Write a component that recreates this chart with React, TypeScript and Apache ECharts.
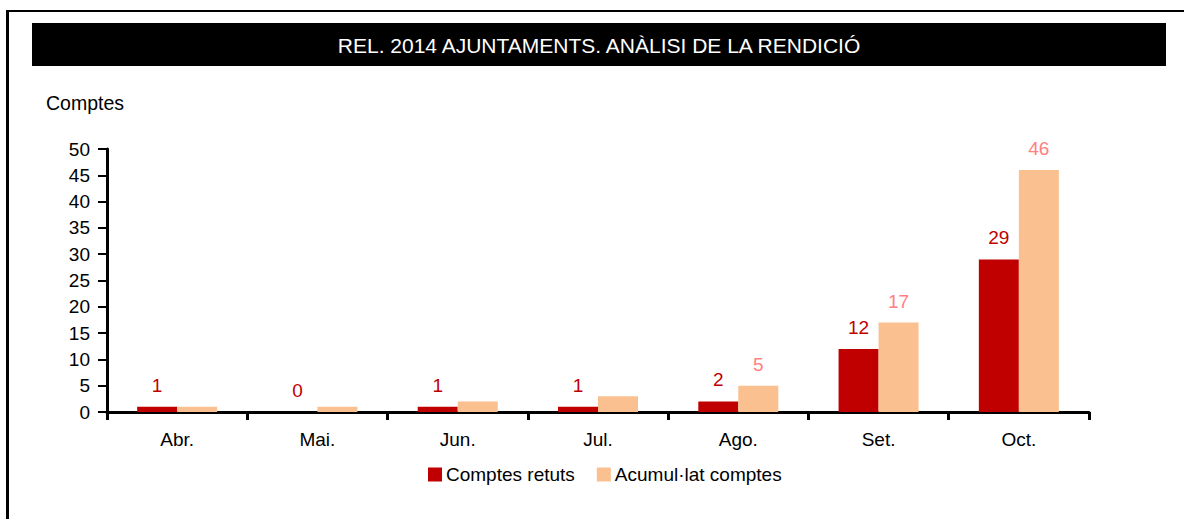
import React, { useEffect, useRef } from "react";
import * as echarts from "echarts";

const categories = ["Abr.", "Mai.", "Jun.", "Jul.", "Ago.", "Set.", "Oct."];
const comptesRetuts = [1, 0, 1, 1, 2, 12, 29];
const acumulatComptes = [1, 1, 2, 3, 5, 17, 46];
const acumLabelMonths = ["Ago.", "Set.", "Oct."];
const yTicks = { min: 0, max: 50, interval: 5 };
const titleText = "REL. 2014 AJUNTAMENTS. ANÀLISI DE LA RENDICIÓ";
const yAxisTitle = "Comptes";
const seriesNames = ["Comptes retuts", "Acumul·lat comptes"];

const FONT = "'Liberation Sans', Arial, sans-serif";
const FS = 19;

export default function App() {
  const ref = useRef<HTMLDivElement>(null);
  useEffect(() => {
    if (!ref.current) return;
    const chart = echarts.init(ref.current, null, { renderer: "svg" });
    chart.setOption({
      animation: false,
      backgroundColor: "#ffffff",
      textStyle: { fontFamily: FONT },
      graphic: [
        { type: "rect", shape: { x: 6, y: 10, width: 3, height: 509 }, style: { fill: "#000" } },
        { type: "rect", shape: { x: 6, y: 10, width: 1178, height: 2 }, style: { fill: "#000" } },
        { type: "rect", shape: { x: 32, y: 23, width: 1134, height: 43 }, style: { fill: "#000" } },
        {
          type: "text",
          x: 599,
          y: 45,
          style: {
            text: titleText,
            fill: "#fff",
            font: `21px ${FONT}`,
            align: "center",
            verticalAlign: "middle",
          },
        },
        {
          type: "text",
          x: 46,
          y: 103,
          style: {
            text: yAxisTitle,
            fill: "#000",
            font: `19.5px ${FONT}`,
            align: "left",
            verticalAlign: "middle",
          },
        },
      ],
      legend: {
        data: seriesNames,
        top: 465,
        left: 428,
        padding: 0,
        itemWidth: 14,
        itemHeight: 14,
        itemGap: 22,
        icon: "rect",
        textStyle: { fontSize: FS, color: "#000", fontFamily: FONT, padding: [0, 0, 0, -1] },
      },
      grid: { left: 107, right: 95, top: 149, bottom: 107 },
      xAxis: {
        type: "category",
        data: categories,
        axisLine: { lineStyle: { color: "#000", width: 3 } },
        axisTick: { show: true, length: 8, lineStyle: { color: "#000", width: 3 } },
        axisLabel: { color: "#000", fontSize: FS, margin: 18, fontFamily: FONT },
      },
      yAxis: {
        type: "value",
        min: yTicks.min,
        max: yTicks.max,
        interval: yTicks.interval,
        splitLine: { show: false },
        axisLine: { show: true, lineStyle: { color: "#000", width: 3 } },
        axisTick: { show: true, length: 9, lineStyle: { color: "#000", width: 2 } },
        axisLabel: { color: "#000", fontSize: FS, margin: 17, fontFamily: FONT },
      },
      series: [
        {
          name: seriesNames[0],
          type: "bar",
          data: comptesRetuts,
          barWidth: 40,
          barGap: "0%",
          itemStyle: { color: "#C00000" },
          label: {
            show: true,
            position: "top",
            distance: 12,
            color: "#C00000",
            fontSize: FS,
            fontFamily: FONT,
          },
        },
        {
          name: seriesNames[1],
          type: "bar",
          data: acumulatComptes.map((v, i) => ({
            value: v,
            label: { show: acumLabelMonths.includes(categories[i]) },
          })),
          barWidth: 40,
          barGap: "0%",
          itemStyle: { color: "#FAC090" },
          label: {
            show: true,
            position: "top",
            distance: 12,
            color: "#FF8080",
            fontSize: FS,
            fontFamily: FONT,
          },
        },
      ],
    });
    return () => chart.dispose();
  }, []);
  return (
    <div
      ref={ref}
      style={{ position: "absolute", left: 0, top: 0, width: 1184, height: 519 }}
    />
  );
}
